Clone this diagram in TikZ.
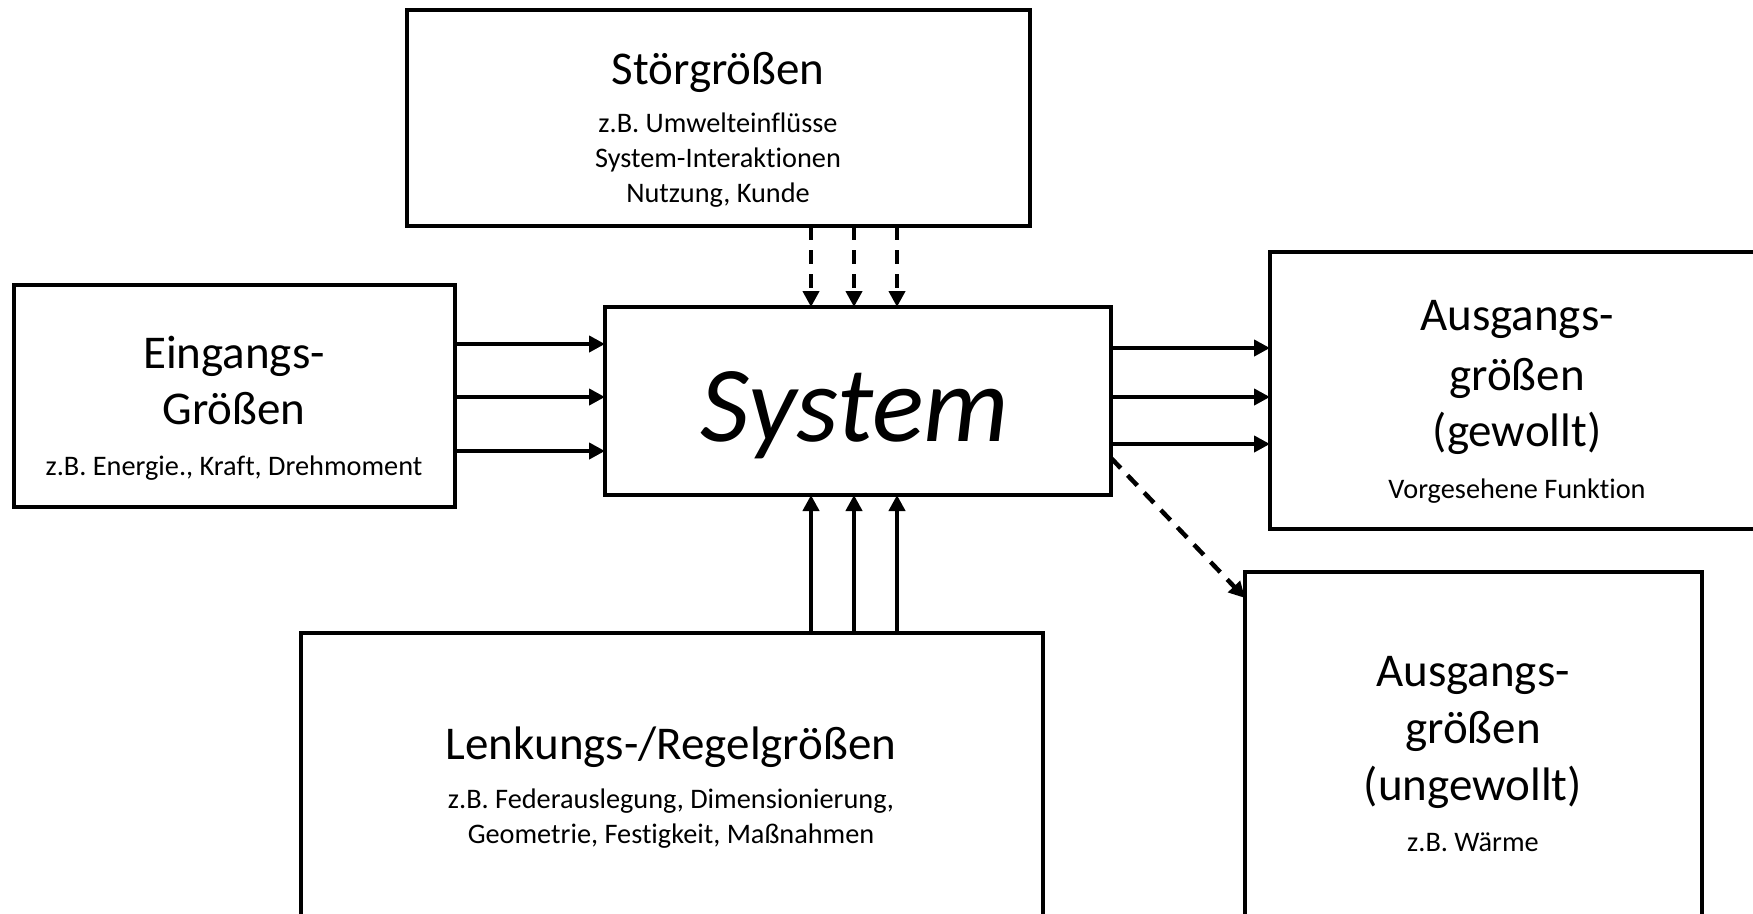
\documentclass[tikz,border=0pt]{standalone}
\usepackage{fontspec}
\setmainfont{Carlito}[Ligatures=NoCommon]
\usetikzlibrary{arrows.meta}

\tikzset{
  box/.style={draw, line width=4.5pt, inner sep=0pt, outer sep=0pt, fill=white},
  title/.style={anchor=base, inner sep=0pt, font=\fontsize{47}{56}\selectfont},
  sub/.style={anchor=base, inner sep=0pt, font=\fontsize{28.3}{34}\selectfont},
  big/.style={anchor=base, inner sep=0pt, font=\fontsize{108}{124}\selectfont\itshape},
  flow/.style={line width=4.5pt, -{Triangle[length=16pt,width=16pt]}},
  dflow/.style={flow, dash pattern=on 14pt off 10pt},
}

\begin{document}
\begin{tikzpicture}[x=1pt, y=-1pt]
  \clip (0,0) rectangle (1753,913);
  \fill[white] (0,0) rectangle (1753,913);

  % boxes
  \node[box, minimum width=623pt, minimum height=216pt] (stoer) at (718.5,118) {};
  \node[box, minimum width=441pt, minimum height=222pt] (ein)   at (234.5,396) {};
  \node[box, minimum width=506pt, minimum height=188pt] (sys)   at (858,401) {};
  \node[box, minimum width=495pt, minimum height=277pt] (aus1)  at (1517.5,390.5) {};
  \node[box, minimum width=457pt, minimum height=368pt] (aus2)  at (1473.5,756) {};
  \node[box, minimum width=742pt, minimum height=307pt] (lenk)  at (672,786.5) {};

  % texts
  \node[title] (stoerT) at (718,84) {Störgrößen};
  \node[sub] (stoerA) at (718,132) {z.B. Umwelteinflüsse};
  \node[sub] (stoerB) at (718,167) {System-Interaktionen};
  \node[sub] (stoerC) at (718,202) {Nutzung, Kunde};

  \node[title] (einA) at (234,368) {Eingangs-};
  \node[title] (einB) at (234,424) {Größen};
  \node[sub]   (einC) at (234,475) {z.B. Energie., Kraft, Drehmoment};

  \node[big] (sysT) at (855,441) {System};

  \node[title] (aus1A) at (1517,330) {Ausgangs-};
  \node[title] (aus1B) at (1517,390) {größen};
  \node[title] (aus1C) at (1517,446) {(gewollt)};
  \node[sub]   (aus1D) at (1517,498) {Vorgesehene Funktion};

  \node[title] (aus2A) at (1473,686) {Ausgangs-};
  \node[title] (aus2B) at (1473,743) {größen};
  \node[title] (aus2C) at (1473,800) {(ungewollt)};
  \node[sub]   (aus2D) at (1473,851) {z.B. Wärme};

  \node[title] (lenkT) at (671,759) {Lenkungs-/Regelgrößen};
  \node[sub]   (lenkA) at (671,808) {z.B. Federauslegung, Dimensionierung,};
  \node[sub]   (lenkB) at (671,843) {Geometrie, Festigkeit, Maßnahmen};

  % levels of the connectors
  \coordinate (in1) at (0,344);
  \coordinate (in2) at (0,397);
  \coordinate (in3) at (0,451);
  \coordinate (out1) at (0,348);
  \coordinate (out2) at (0,397);
  \coordinate (out3) at (0,444);
  \coordinate (c1) at (811,0);
  \coordinate (c2) at (854,0);
  \coordinate (c3) at (897,0);
  \coordinate (dstart) at (0,458);
  \coordinate (dend) at (0,598);

  % inputs
  \draw[flow] (ein.east |- in1) -- (sys.west |- in1);
  \draw[flow] (ein.east |- in2) -- (sys.west |- in2);
  \draw[flow] (ein.east |- in3) -- (sys.west |- in3);

  % wanted outputs
  \draw[flow] (sys.east |- out1) -- (aus1.west |- out1);
  \draw[flow] (sys.east |- out2) -- (aus1.west |- out2);
  \draw[flow] (sys.east |- out3) -- (aus1.west |- out3);

  % disturbances
  \draw[dflow] (stoer.south -| c1) -- (sys.north -| c1);
  \draw[dflow] (stoer.south -| c2) -- (sys.north -| c2);
  \draw[dflow] (stoer.south -| c3) -- (sys.north -| c3);

  % control inputs
  \draw[flow] (lenk.north -| c1) -- (sys.south -| c1);
  \draw[flow] (lenk.north -| c2) -- (sys.south -| c2);
  \draw[flow] (lenk.north -| c3) -- (sys.south -| c3);

  % unwanted output
  \draw[dflow] (sys.east |- dstart) -- (aus2.west |- dend);
\end{tikzpicture}
\end{document}
